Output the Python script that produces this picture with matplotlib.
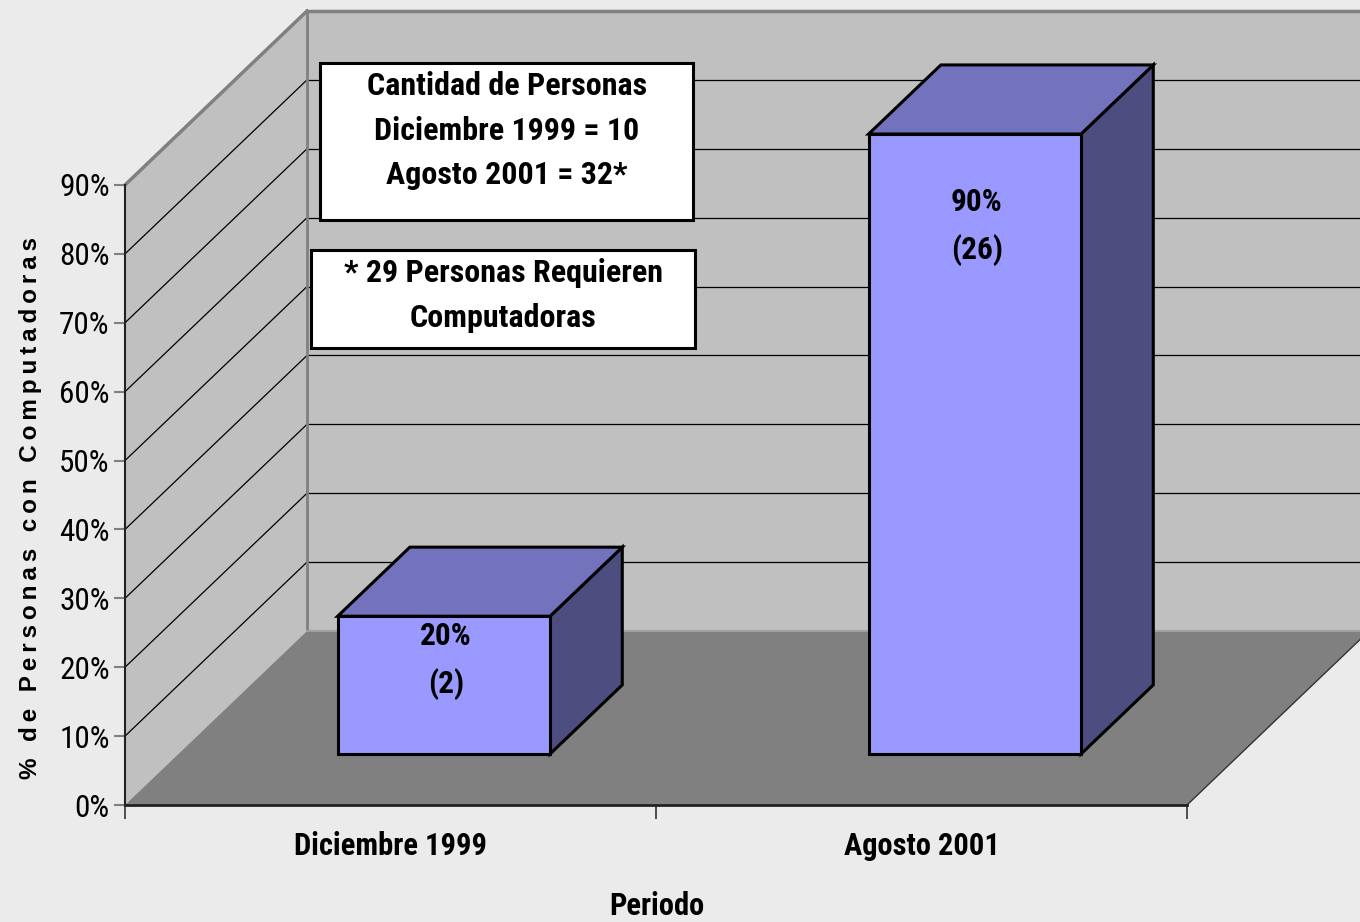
import matplotlib
matplotlib.use("Agg")
import matplotlib.pyplot as plt
from matplotlib.patches import Polygon, Rectangle
from matplotlib.lines import Line2D

# ---- data ----
categories = ["Diciembre 1999", "Agosto 2001"]
values = [20, 90]          # % de personas con computadoras
counts = [2, 26]
yticks = [0, 10, 20, 30, 40, 50, 60, 70, 80, 90]
label_y = [17.1, 80.1]     # vertical position of data labels (first line)
box1_lines = ["Cantidad de Personas", "Diciembre 1999 = 10", "Agosto 2001 = 32*"]
box2_lines = ["* 29 Personas Requieren", "Computadoras"]
ylabel = "% de Personas con Computadoras"
xlabel = "Periodo"

NARROW = ["Roboto Condensed", "DejaVu Sans"]
WIDE = ["Liberation Sans", "DejaVu Sans"]

W, H = 1360, 922
fig = plt.figure(figsize=(W / 100, H / 100), dpi=100)
fig.patch.set_facecolor("#ebebeb")

ax = fig.add_axes([125 / W, (H - 805) / H, 1062 / W, 620 / H])
ax.set_xlim(0, 2)
ax.set_ylim(0, 90)
ax.patch.set_visible(False)
for s in ax.spines.values():
    s.set_visible(False)

DX, DY = 182, 174  # depth offset in pixels


def P(x, y, f):
    px, py = ax.transData.transform((x, y))
    return (px + f * DX, py + f * DY)


def poly(pts, fc, ec="none", lw=0, z=1):
    fig.patches.append(Polygon(pts, closed=True, facecolor=fc, edgecolor=ec,
                               linewidth=lw, zorder=z, transform=None,
                               joinstyle="miter"))


def line(p, q, color="black", lw=1, z=2):
    fig.lines.append(Line2D([p[0], q[0]], [p[1], q[1]], color=color, lw=lw,
                            zorder=z, transform=None))


xmax = len(categories)
ytop = yticks[-1]
# walls and floor
poly([P(0, 0, 1), P(xmax, 0, 1), P(xmax, ytop, 1), P(0, ytop, 1)], "#c0c0c0", z=1)
poly([P(0, 0, 0), P(0, ytop, 0), P(0, ytop, 1), P(0, 0, 1)], "#c0c0c0", z=1)
poly([P(0, 0, 0), P(xmax, 0, 0), P(xmax, 0, 1), P(0, 0, 1)], "#808080", z=2)
# gridlines
for v in yticks[1:-1]:
    line(P(0, v, 0), P(0, v, 1), "black", 0.9, 3)
    line(P(0, v, 1), P(xmax, v, 1), "black", 0.9, 3)
# wall edges
line(P(0, ytop, 0), P(0, ytop, 1), "#808080", 2.5, 3)
line(P(0, ytop, 1), P(xmax, ytop, 1), "#808080", 2.5, 3)
line(P(0, 0, 1), P(0, ytop, 1), "#808080", 2.0, 3)
line(P(0, 0, 1), P(xmax, 0, 1), "#a0a0a0", 1.5, 3)
line(P(xmax, 0, 0), P(xmax, 0, 1), "#333333", 1.0, 3)
line(P(0, 0, 0), P(0, ytop, 0), "#222222", 1.5, 4)
line(P(0, 0, 0), P(xmax, 0, 0), "#222222", 2.0, 4)

# bars
f0, f1 = 0.293, 0.69
bw = 0.4
for i, (cat, v, n) in enumerate(zip(categories, values, counts)):
    c = i + 0.5
    l, r = c - bw / 2, c + bw / 2
    poly([P(r, 0, f0), P(r, 0, f1), P(r, v, f1), P(r, v, f0)], "#4d4d80", "black", 2.2, 10 + i)
    poly([P(l, v, f0), P(r, v, f0), P(r, v, f1), P(l, v, f1)], "#7373bd", "black", 2.2, 10 + i)
    poly([P(l, 0, f0), P(r, 0, f0), P(r, v, f0), P(l, v, f0)], "#9999ff", "black", 2.2, 10 + i)
    x1, y1 = P(c, label_y[i], f0)
    fig.text((x1 + 2) / W, y1 / H, f"{v}%", ha="center", va="center", fontsize=22.5,
             fontweight="bold", family=NARROW, zorder=20)
    fig.text((x1 + 2) / W, (y1 - 48) / H, f"({n})", ha="center", va="center", fontsize=22.5,
             fontweight="bold", family=NARROW, zorder=20)

# text boxes
def tbox(x0, y0, x1, y1, lines, cx, ys):
    fig.patches.append(Rectangle((x0, H - y1), x1 - x0, y1 - y0, facecolor="white",
                                 edgecolor="black", lw=2.2, transform=None, zorder=8))
    for t, yy in zip(lines, ys):
        fig.text(cx / W, (H - yy) / H, t, ha="center", va="center", fontsize=23,
                 fontweight="bold", family=NARROW, zorder=9)

tbox(320, 63, 693, 220, box1_lines, 507, [86, 131, 175])
tbox(311, 250, 695, 348, box2_lines, 503, [273, 318])

# axes ticks
ax.set_yticks(yticks)
ax.set_yticklabels([f"{v}%" for v in yticks], family=NARROW, fontsize=22.5)
ax.tick_params(axis="y", length=8, width=1.5, color="#808080", pad=3, direction="out")
ax.set_xticks(range(xmax + 1))
ax.set_xticklabels([])
ax.tick_params(axis="x", which="major", length=10, width=1.2, color="#333333", direction="out")
ax.set_xticks([i + 0.5 for i in range(xmax)], minor=True)
ax.set_xticklabels(categories, minor=True, family=NARROW, fontsize=22, fontweight="bold")
ax.tick_params(axis="x", which="minor", length=0, pad=19)

fig.text(657 / W, (H - 906) / H, xlabel, ha="center", va="center", fontsize=22,
         fontweight="bold", family=NARROW)
fig.text(31 / W, (H - 508) / H, "\u2009".join(ylabel), ha="center",
         va="center", rotation=90, fontsize=17.5, fontweight="bold", family=WIDE)

fig.savefig("out.png", dpi=100, facecolor=fig.get_facecolor())
